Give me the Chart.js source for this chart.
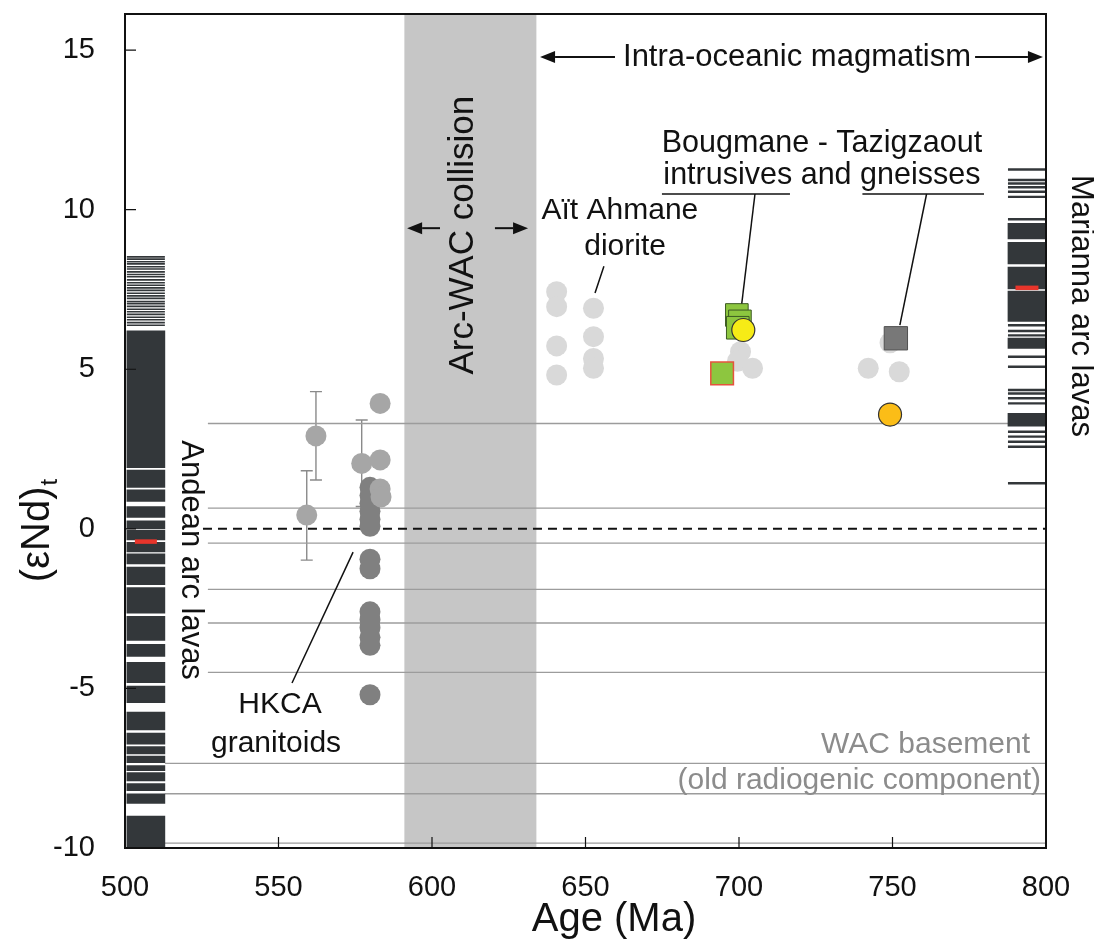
<!DOCTYPE html>
<html>
<head>
<meta charset="utf-8">
<script src="https://cdn.jsdelivr.net/npm/chart.js@4.4.1/dist/chart.umd.min.js"></script>
<style>
  html, body { margin: 0; background: #fff; }
  #wrap { width: 1094px; height: 941px; }
</style>
</head>
<body>
<div id="wrap"><canvas id="nd"></canvas></div>
<script>
/* eNd(t) vs age — Anti-Atlas arc magmatism */

const FONT = "'Liberation Sans', Arial, sans-serif";

const xTicks = [500, 550, 600, 650, 700, 750, 800];
const yTicks = [-10, -5, 0, 5, 10, 15];
const collisionAges = [591, 634];

// HKCA granitoids
const hkcaAge = 579.8;
const hkcaDark = [1.3, 1.05, 0.8, 0.55, 0.3, 0.08, -0.95, -1.25, -2.6, -2.85, -3.1, -3.4, -3.65, -5.2];
const hkcaLightAges = [559.2, 562.2, 577.1, 583.1, 583.1, 583.1, 583.4];
const hkcaLight = [0.43, 2.91, 2.05, 3.93, 2.16, 1.25, 1.0];
const errAges = [559.2, 562.2, 577.1];
const errLo = [-0.98, 1.53, 0.7];
const errHi = [1.82, 4.3, 3.41];

// Aït Ahmane diorite and other intra-oceanic samples
const lightAges = [640.6, 640.6, 640.6, 640.6, 652.6, 652.6, 652.6, 652.6, 700.5, 699.5, 704.4, 742.1, 752.2, 749.2];
const lightVals = [7.43, 6.96, 5.73, 4.82, 6.91, 6.02, 5.34, 5.03, 5.55, 5.25, 5.03, 5.03, 4.92, 5.83];

// Bougmane - Tazigzaout
const intrusiveAges = [699.3, 700.3, 699.6];
const intrusiveVals = [6.7, 6.5, 6.3];
const intrusiveRedAge = [694.5];
const intrusiveRedVal = [4.87];
const yellowAge = [701.4];
const yellowVal = [6.23];
const gneissAge = [751.1];
const gneissVal = [5.97];
const orangeAge = [749.2];
const orangeVal = [3.58];

// arc lava compilations (each line = one analysis, blocks = densely packed analyses)
const andeanAge = 506.8;
const andeanLines = [8.52, 8.45, 8.37, 8.3, 8.21, 8.14, 8.05, 7.97, 7.9, 7.8, 7.71, 7.63, 7.55, 7.47, 7.38, 7.3,
  7.22, 7.12, 7.05, 6.97, 6.88, 6.8, 6.72, 6.63, 6.55, 6.46, 6.38];
const andeanBlocks = [[1.92, 6.2], [1.3, 1.84], [0.86, 1.22], [0.36, 0.7], [0.0, 0.25], [-0.35, -0.05],
  [-0.72, -0.42], [-1.1, -0.78], [-1.75, -1.2], [-2.64, -1.84], [-3.5, -2.74], [-4.0, -3.62], [-4.82, -4.18],
  [-5.45, -4.93], [-6.3, -5.74], [-6.75, -6.4], [-7.05, -6.82], [-7.33, -7.12], [-7.58, -7.42], [-7.9, -7.64],
  [-8.2, -7.98], [-8.6, -8.3], [-9.98, -9.0]];
const andeanMean = [-0.4];

const mariannaAge = 793.8;
const mariannaLines = [11.26, 10.93, 10.82, 10.7, 10.56, 10.4, 9.7, 6.38, 6.2, 6.06, 5.39, 5.08, 4.35, 4.24,
  4.09, 3.93, 3.04, 2.89, 2.73, 2.57, 1.43];
const mariannaBlocks = [[9.08, 9.57], [8.3, 8.98], [7.52, 8.2], [6.5, 7.45], [5.65, 5.98], [3.22, 3.62]];
const mariannaMean = [7.55];

// reference levels
const refLevels = [3.3, 0.65, -0.45, -1.9, -2.95, -4.5];
const refFrom = 527;
const wacLevels = [-7.35, -8.3, -9.85];
const wacFrom = 513;
const zeroFrom = 525.4;

/* ── helpers ─────────────────────────────────────────── */
const pts = (ages, vals) => vals.map((v, i) => ({ x: Array.isArray(ages) ? ages[i] : ages, y: v }));
const hline = (v, from) => [{ x: from, y: v }, { x: 800, y: v }];

const DARK = '#33373a';

function dot(data, color, radius, order, extra) {
  return Object.assign({
    type: 'scatter', data, order,
    pointRadius: radius, pointBackgroundColor: color, pointBorderWidth: 0, pointStyle: 'circle'
  }, extra || {});
}
function tick(data, color, radius, width, order) {
  return { type: 'scatter', data, order, pointStyle: 'line', pointRadius: radius,
    pointBorderColor: color, pointBorderWidth: width };
}
function block(data, order) {
  return { type: 'bar', data, order, grouped: false, barThickness: 38,
    backgroundColor: DARK, borderWidth: 0 };
}

const datasets = [];
refLevels.forEach(v => datasets.push({ type: 'line', data: hline(v, refFrom), borderColor: '#9c9c9c',
  borderWidth: 1.3, pointRadius: 0, order: 20 }));
wacLevels.forEach(v => datasets.push({ type: 'line', data: hline(v, wacFrom), borderColor: '#9c9c9c',
  borderWidth: 1.3, pointRadius: 0, order: 20 }));
datasets.push({ type: 'line', data: hline(0, zeroFrom), borderColor: '#111', borderWidth: 2,
  borderDash: [9, 6], pointRadius: 0, order: 19 });

datasets.push(block(andeanBlocks.map(r => ({ x: andeanAge, y: r })), 15));
datasets.push(tick(pts(andeanAge, andeanLines), DARK, 19, 1.6, 14));
datasets.push(tick(pts(andeanAge, andeanMean), '#e8352b', 11, 4.5, 13));
datasets.push(block(mariannaBlocks.map(r => ({ x: mariannaAge, y: r })), 15));
datasets.push(tick(pts(mariannaAge, mariannaLines), DARK, 19, 2.4, 14));
datasets.push(tick(pts(mariannaAge, mariannaMean), '#e8352b', 11.5, 4.5, 13));

datasets.push(dot(pts(lightAges, lightVals), '#d9d9d9', 10.5, 9));
datasets.push(dot(pts(hkcaAge, hkcaDark), '#808080', 10.5, 8));
datasets.push(dot(pts(hkcaLightAges, hkcaLight), '#a6a6a6', 10.5, 7));
datasets.push(dot(pts(intrusiveAges, intrusiveVals), '#8dc63f', 16, 5,
  { pointStyle: 'rect', pointBorderColor: '#3c5a22', pointBorderWidth: 1 }));
datasets.push(dot(pts(intrusiveRedAge, intrusiveRedVal), '#8dc63f', 16, 5,
  { pointStyle: 'rect', pointBorderColor: '#e5533d', pointBorderWidth: 1.5 }));
datasets.push(dot(pts(gneissAge, gneissVal), '#787878', 16.5, 5,
  { pointStyle: 'rect', pointBorderColor: '#505050', pointBorderWidth: 1 }));
datasets.push(dot(pts(yellowAge, yellowVal), '#f6eb16', 11.5, 3,
  { pointBorderColor: '#333', pointBorderWidth: 1.2 }));
datasets.push(dot(pts(orangeAge, orangeVal), '#fbbd17', 11.5, 3,
  { pointBorderColor: '#333', pointBorderWidth: 1.2 }));

/* ── drawing helpers for annotations ─────────────────── */
function txt(ctx, s, px, py, size, opts) {
  opts = opts || {};
  ctx.save();
  ctx.translate(px, py);
  if (opts.rot) ctx.rotate(opts.rot);
  ctx.font = size + 'px ' + FONT;
  ctx.fillStyle = opts.color || '#111';
  ctx.textAlign = opts.align || 'center';
  ctx.textBaseline = 'middle';
  ctx.fillText(s, 0, 0);
  ctx.restore();
}
function arrow(ctx, x0, x1, yy) {
  const dir = Math.sign(x1 - x0), head = 15;
  ctx.lineWidth = 2;
  ctx.beginPath(); ctx.moveTo(x0, yy); ctx.lineTo(x1 - dir * head, yy); ctx.stroke();
  ctx.beginPath(); ctx.moveTo(x1, yy); ctx.lineTo(x1 - dir * head, yy - 6); ctx.lineTo(x1 - dir * head, yy + 6);
  ctx.closePath(); ctx.fill();
}
function seg(ctx, x0, y0, x1, y1, w) {
  ctx.lineWidth = w || 1.5;
  ctx.beginPath(); ctx.moveTo(x0, y0); ctx.lineTo(x1, y1); ctx.stroke();
}

const decor = {
  id: 'decor',
  beforeDatasetsDraw(chart) {
    const { ctx, chartArea: a, scales: { x, y } } = chart;
    ctx.save();
    ctx.fillStyle = '#c6c6c6';
    const b0 = x.getPixelForValue(collisionAges[0]), b1 = x.getPixelForValue(collisionAges[1]);
    ctx.fillRect(b0, a.top, b1 - b0, a.bottom - a.top);
    ctx.strokeStyle = '#8a8a8a';
    ctx.lineWidth = 1.4;
    errAges.forEach((ag, i) => {
      const px = x.getPixelForValue(ag), lo = y.getPixelForValue(errLo[i]), hi = y.getPixelForValue(errHi[i]);
      ctx.beginPath();
      ctx.moveTo(px, lo); ctx.lineTo(px, hi);
      ctx.moveTo(px - 6, lo); ctx.lineTo(px + 6, lo);
      ctx.moveTo(px - 6, hi); ctx.lineTo(px + 6, hi);
      ctx.stroke();
    });
    ctx.restore();
  },
  afterDatasetsDraw(chart) {
    const { ctx, chartArea: a, scales: { x, y } } = chart;
    const X = v => x.getPixelForValue(v), Y = v => y.getPixelForValue(v);
    ctx.save();
    ctx.strokeStyle = '#111';
    ctx.fillStyle = '#111';

    // frame + inward ticks
    ctx.lineWidth = 2;
    ctx.strokeRect(a.left, a.top, a.right - a.left, a.bottom - a.top);
    ctx.lineWidth = 1.2;
    ctx.beginPath();
    yTicks.forEach(v => { if (v > -10) { ctx.moveTo(a.left, Y(v)); ctx.lineTo(a.left + 11, Y(v)); } });
    xTicks.forEach(v => { if (v > 500 && v < 800) { ctx.moveTo(X(v), a.bottom); ctx.lineTo(X(v), a.bottom - 11); } });
    ctx.stroke();

    // intra-oceanic magmatism
    txt(ctx, 'Intra-oceanic magmatism', X(718.9), Y(14.78), 31);
    arrow(ctx, X(659.6), X(635.2), Y(14.78));
    arrow(ctx, X(776.9), X(799.0), Y(14.78));

    // collision band
    txt(ctx, 'Arc-WAC collision', X(610.1), Y(9.2), 35, { rot: -Math.PI / 2 });
    arrow(ctx, X(602.6), X(591.9), Y(9.42));
    arrow(ctx, X(620.5), X(631.3), Y(9.42));

    // Aït Ahmane
    txt(ctx, 'Aït Ahmane', X(661.2), Y(9.96), 30);
    txt(ctx, 'diorite', X(662.9), Y(8.83), 30);
    seg(ctx, X(656.0), Y(8.23), X(653.1), Y(7.39));

    // Bougmane - Tazigzaout
    txt(ctx, 'Bougmane - Tazigzaout', X(727.0), Y(12.06), 30.5);
    txt(ctx, 'intrusives and gneisses', X(727.0), Y(11.08), 30.5);
    seg(ctx, X(674.9), Y(10.49), X(716.6), Y(10.49));
    seg(ctx, X(740.2), Y(10.49), X(779.8), Y(10.49));
    seg(ctx, X(705.2), Y(10.49), X(700.9), Y(7.06));
    seg(ctx, X(761.1), Y(10.49), X(752.4), Y(6.38));

    // HKCA
    txt(ctx, 'HKCA', X(550.5), Y(-5.52), 30);
    txt(ctx, 'granitoids', X(549.2), Y(-6.74), 30);
    seg(ctx, X(574.3), Y(-0.73), X(554.4), Y(-4.83));

    // arc lava labels
    txt(ctx, 'Andean arc lavas', X(521.2), Y(-0.98), 31, { rot: Math.PI / 2 });
    txt(ctx, 'Marianna arc lavas', X(811.1), Y(6.98), 31, { rot: Math.PI / 2 });

    // WAC basement
    txt(ctx, 'WAC basement', X(794.8), Y(-6.77), 30, { color: '#8c8c8c', align: 'right' });
    txt(ctx, '(old radiogenic component)', X(798.4), Y(-7.9), 30, { color: '#8c8c8c', align: 'right' });

    // axis titles
    txt(ctx, 'Age (Ma)', 614, 920, 40);
    ctx.translate(36, 531);
    ctx.rotate(-Math.PI / 2);
    ctx.textAlign = 'left';
    ctx.textBaseline = 'alphabetic';
    ctx.font = '40px ' + FONT;
    const w = ctx.measureText('(εNd)').width;
    ctx.font = '24px ' + FONT;
    const ws = ctx.measureText('t').width;
    const s0 = -(w + ws) / 2;
    ctx.font = '40px ' + FONT;
    ctx.fillText('(εNd)', s0, 13);
    ctx.font = '24px ' + FONT;
    ctx.fillText('t', s0 + w + 1, 21);
    ctx.restore();
  }
};

new Chart(document.getElementById('nd'), {
  type: 'scatter',
  data: { datasets },
  options: {
    responsive: true,
    maintainAspectRatio: false,
    animation: false,
    events: [],
    layout: { autoPadding: false, padding: { top: 14, right: 48, left: 0, bottom: 0 } },
    plugins: { legend: { display: false }, tooltip: { enabled: false } },
    scales: {
      x: {
        type: 'linear', min: 500, max: 800, offset: false,
        afterBuildTicks: s => { s.ticks = xTicks.map(v => ({ value: v })); },
        afterFit: s => { s.height = 93; s.paddingLeft = 0; s.paddingRight = 0; },
        grid: { display: false, drawTicks: false, offset: false },
        border: { display: false },
        ticks: { color: '#111', padding: 23, maxRotation: 0, autoSkip: false, font: { family: FONT, size: 29 } }
      },
      y: {
        type: 'linear', min: -10, max: 16.13,
        afterBuildTicks: s => { s.ticks = yTicks.map(v => ({ value: v })); },
        afterFit: s => { s.width = 125; s.paddingTop = 0; s.paddingBottom = 0; },
        grid: { display: false, drawTicks: false },
        border: { display: false },
        ticks: { color: '#111', padding: 30, font: { family: FONT, size: 29 } }
      }
    }
  },
  plugins: [decor]
});
</script>
</body>
</html>
